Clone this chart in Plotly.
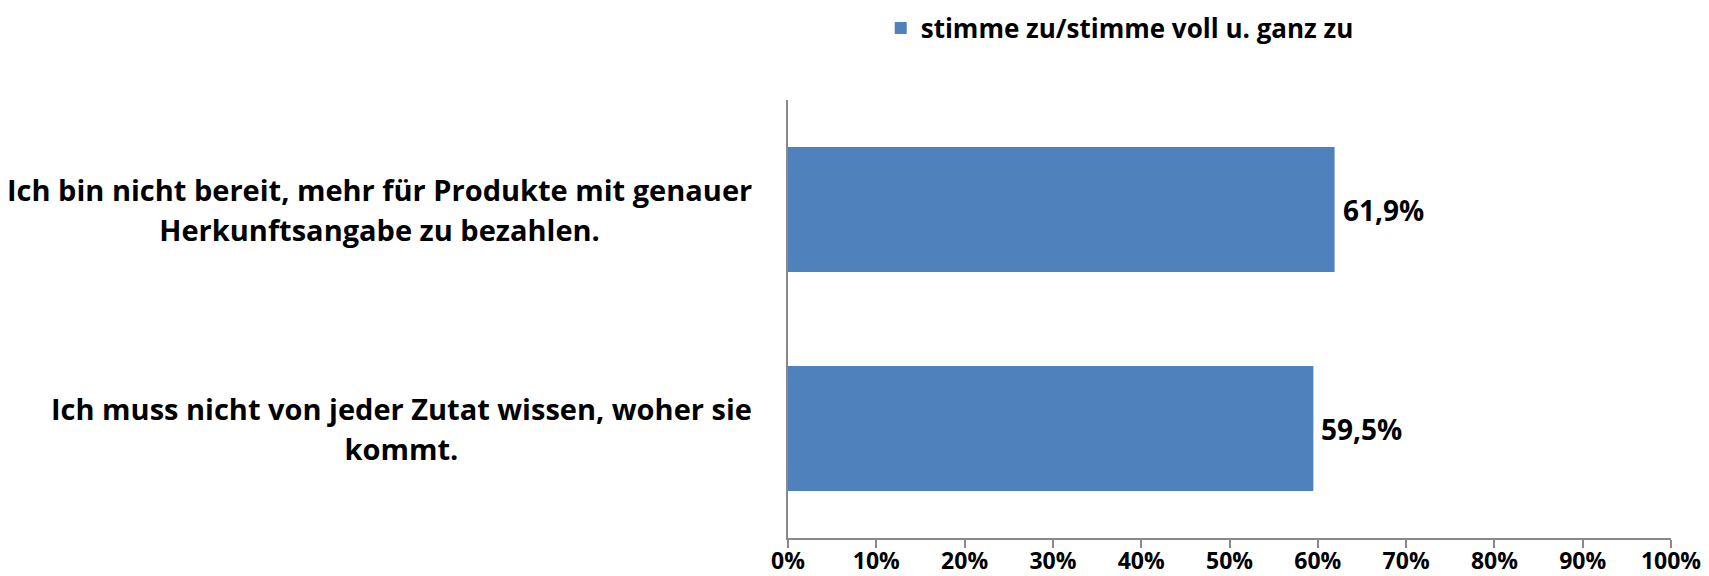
import plotly.graph_objects as go

categories = [
    "Ich bin nicht bereit, mehr für Produkte mit genauer<br>Herkunftsangabe zu bezahlen.",
    "Ich muss nicht von jeder Zutat wissen, woher sie<br>kommt.",
]
values = [61.9, 59.5]
value_labels = ["61,9%", "59,5%"]
series_name = "stimme zu/stimme voll u. ganz zu"
x_ticks = [0, 10, 20, 30, 40, 50, 60, 70, 80, 90, 100]
x_tick_labels = ["0%", "10%", "20%", "30%", "40%", "50%", "60%", "70%", "80%", "90%", "100%"]

FONT = "Open Sans"
BLUE = "#4F81BD"
AXIS = "#898989"

fig = go.Figure()
fig.add_trace(go.Bar(
    y=categories,
    x=values,
    orientation="h",
    name=series_name,
    marker=dict(color=BLUE, line=dict(width=0)),
    hoverinfo="skip",
))

# value labels right of the bars
for cat, v, lab in zip(categories, values, value_labels):
    fig.add_annotation(
        x=v, y=cat, xref="x", yref="y",
        text=lab, showarrow=False,
        xanchor="left", yanchor="middle", xshift=6,
        font=dict(family=FONT, size=28, color="#000000", weight="bold"),
    )

# category labels (centered block, right edge near the axis)
SPAN = "<span style='font-size:29px'>"
for cat in categories:
    fig.add_annotation(
        x=0, y=cat, xref="paper", yref="y",
        text=SPAN + cat.replace("<br>", "</span><br>" + SPAN) + "</span>",
        showarrow=False,
        xanchor="right", yanchor="middle", align="center", xshift=-34,
        font=dict(family=FONT, size=31, color="#000000", weight="bold"),
    )

fig.update_layout(
    width=1709, height=576,
    margin=dict(l=780, r=46, t=92, b=46, pad=0, autoexpand=False),
    paper_bgcolor="white", plot_bgcolor="white",
    font=dict(family=FONT, size=23, color="#000000", weight="bold"),
    bargap=0.43,
    showlegend=True,
    legend=dict(
        orientation="h",
        xref="paper", x=0.105, xanchor="left",
        yref="container", y=1 - 20 / 576, yanchor="middle",
        font=dict(family=FONT, size=26, color="#000000", weight="bold"),
        bgcolor="rgba(0,0,0,0)",
        itemclick=False, itemdoubleclick=False,
    ),
    xaxis=dict(
        range=[0, 100],
        tickmode="array", tickvals=x_ticks, ticktext=x_tick_labels,
        showgrid=False, zeroline=False,
        showline=True, linecolor=AXIS, linewidth=2,
        ticks="outside", ticklen=8, tickwidth=2, tickcolor=AXIS,
        ticklabelstandoff=-7,
        tickfont=dict(family=FONT, size=23, color="#000000", weight="bold"),
        automargin=False,
        fixedrange=True,
    ),
    yaxis=dict(
        autorange="reversed",
        showticklabels=False,
        showgrid=False, zeroline=False,
        showline=True, linecolor=AXIS, linewidth=2,
        ticks="",
        automargin=False,
        fixedrange=True,
    ),
)

fig.write_html("out.html", config={"displayModeBar": False})
